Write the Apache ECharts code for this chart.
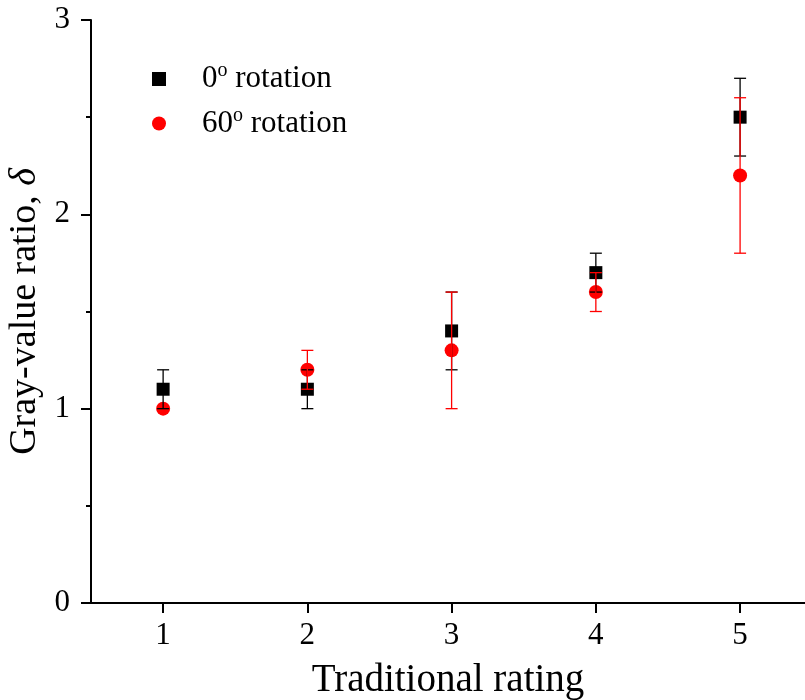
<!DOCTYPE html>
<html>
<head>
<meta charset="utf-8">
<script src="https://cdn.jsdelivr.net/npm/echarts@6/dist/echarts.min.js"></script>
<style>html,body{margin:0;padding:0;background:#fff}#c{width:805px;height:700px}</style>
</head>
<body>
<div id="c"></div>
<script>
var ratings = [1, 2, 3, 4, 5];
var rot0 = [1.1, 1.1, 1.4, 1.7, 2.5];
var rot0Err = [0.1, 0.1, 0.2, 0.1, 0.2];
var rot60 = [1.0, 1.2, 1.3, 1.6, 2.2];
var rot60Err = [0.0, 0.1, 0.3, 0.1, 0.4];
var yTicks = [0, 1, 2, 3];

var FONT = '"Liberation Serif", "Times New Roman", serif';

function errData(vals, errs) {
  return ratings.map(function (x, i) { return [x, vals[i] - errs[i], vals[i] + errs[i]]; });
}
function errRender(color) {
  return function (params, api) {
    var x = api.value(0);
    var lo = api.coord([x, api.value(1)]);
    var hi = api.coord([x, api.value(2)]);
    var w = 6;
    var st = { stroke: color, lineWidth: 1.3 };
    return {
      type: 'group',
      children: [
        { type: 'line', shape: { x1: lo[0], y1: lo[1], x2: hi[0], y2: hi[1] }, style: st },
        { type: 'line', shape: { x1: lo[0] - w, y1: lo[1], x2: lo[0] + w, y2: lo[1] }, style: st },
        { type: 'line', shape: { x1: hi[0] - w, y1: hi[1], x2: hi[0] + w, y2: hi[1] }, style: st }
      ]
    };
  };
}

var chart = echarts.init(document.getElementById('c'));
chart.setOption({
  animation: false,
  textStyle: { fontFamily: FONT },
  grid: { left: 91, top: 20, right: 0, bottom: 97, containLabel: false, outerBoundsMode: 'none' },
  legend: {
    orient: 'vertical',
    left: 147,
    top: 56,
    itemWidth: 14,
    itemHeight: 14,
    itemGap: 11,
    data: [
      { name: 'r0', icon: 'rect' },
      { name: 'r60', icon: 'circle' }
    ],
    formatter: function (n) {
      return n === 'r0' ? '{a|0}{s|o}{a| rotation}' : '{a|60}{s|o}{a| rotation}';
    },
    textStyle: {
      padding: [0, 0, 0, 31],
      rich: {
        a: { fontFamily: FONT, fontSize: 31, lineHeight: 36, color: '#000' },
        s: { fontFamily: FONT, fontSize: 20, lineHeight: 20, verticalAlign: 'top', color: '#000' }
      }
    }
  },
  xAxis: {
    type: 'value',
    min: 0.5,
    max: 5.45,
    name: 'Traditional rating',
    nameLocation: 'middle',
    nameGap: 58,
    nameTextStyle: { fontFamily: FONT, fontSize: 39, color: '#000' },
    axisLine: { show: true, onZero: false, lineStyle: { color: '#000', width: 2 } },
    axisTick: { show: true, inside: false, length: 10, lineStyle: { color: '#000', width: 2 }, customValues: ratings },
    axisLabel: { fontFamily: FONT, fontSize: 31, color: '#000', margin: 17, customValues: ratings },
    splitLine: { show: false }
  },
  yAxis: {
    type: 'value',
    min: 0,
    max: 3,
    interval: 1,
    name: 'Gray-value ratio, {i|δ}',
    nameLocation: 'middle',
    nameGap: 41,
    nameTextStyle: {
      fontFamily: FONT, fontSize: 38, color: '#000',
      rich: { i: { fontFamily: FONT, fontSize: 38, fontStyle: 'italic', color: '#000' } }
    },
    axisLine: { show: true, onZero: false, lineStyle: { color: '#000', width: 2 } },
    axisTick: { show: true, inside: false, length: 10, lineStyle: { color: '#000', width: 2 } },
    minorTick: { show: true, splitNumber: 2, length: 5, lineStyle: { color: '#000', width: 2 } },
    axisLabel: { fontFamily: FONT, fontSize: 31, color: '#000', margin: 21,
      formatter: function (v) { return yTicks.indexOf(v) >= 0 ? String(v) : ''; } },
    splitLine: { show: false }
  },
  series: [
    {
      name: 'r0', type: 'scatter', symbol: 'rect', symbolSize: 13,
      itemStyle: { color: '#000', opacity: 1 }, z: 2,
      data: ratings.map(function (x, i) { return [x, rot0[i]]; })
    },
    {
      name: 'r60', type: 'scatter', symbol: 'circle', symbolSize: 14,
      itemStyle: { color: '#ff0000', opacity: 1 }, z: 3,
      data: ratings.map(function (x, i) { return [x, rot60[i]]; })
    },
    {
      type: 'custom', renderItem: errRender('#000'), z: 4, silent: true,
      data: errData(rot0, rot0Err)
    },
    {
      type: 'custom', renderItem: errRender('#ff0000'), z: 5, silent: true,
      data: errData(rot60, rot60Err).filter(function (d) { return d[2] > d[1]; })
    }
  ]
});
</script>
</body>
</html>
